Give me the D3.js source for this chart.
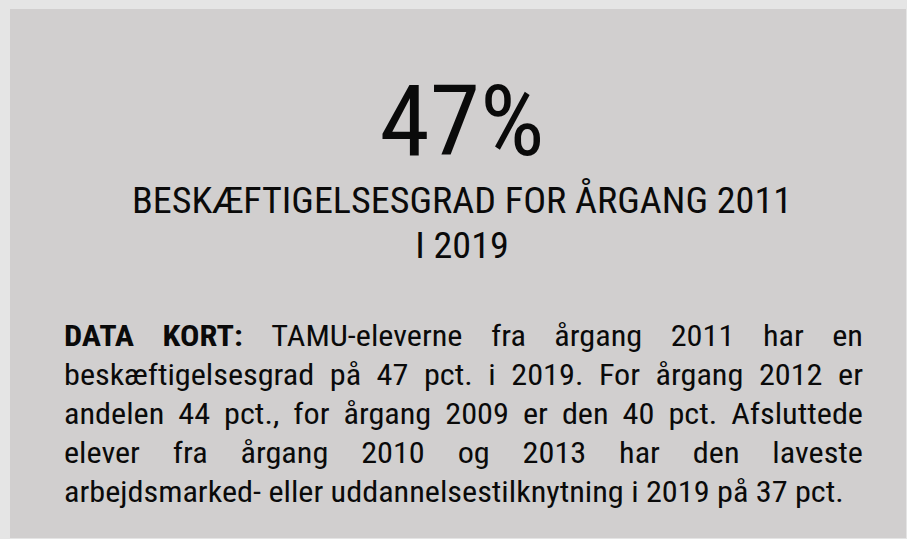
<!DOCTYPE html>
<html>
<head>
<meta charset="utf-8">
<script src="https://cdn.jsdelivr.net/npm/d3@7"></script>
<style>
  html, body { margin: 0; padding: 0; background: #e5e5e5; }
  svg { display: block; }
  text { font-family: "Roboto Condensed", "Liberation Sans Narrow", "DejaVu Sans Condensed", sans-serif; fill: #0a0a0a; }
</style>
</head>
<body>
<svg id="card" width="907" height="539"></svg>
<script>
// headline figure
const headlineValue = 47;
const headlineUnit = "%";

// subtitle, one entry per line
const subtitleLines = ["BESKÆFTIGELSESGRAD FOR ÅRGANG 2011", "I 2019"];

// data note: bold lead + lines of justified text
const noteLead = "DATA KORT:";
const noteLines = [
  "TAMU-eleverne fra årgang 2011 har en",
  "beskæftigelsesgrad på 47 pct. i 2019. For årgang 2012 er",
  "andelen 44 pct., for årgang 2009 er den 40 pct. Afsluttede",
  "elever fra årgang 2010 og 2013 har den laveste",
  "arbejdsmarked- eller uddannelsestilknytning i 2019 på 37 pct."
];

var svg = d3.select("#card"),
    width = +svg.attr("width"),
    height = +svg.attr("height");

var box = { x: 10, y: 9, w: width - 11, h: height - 10 };
var cx = 462;

// the reference face is a touch wider than Roboto Condensed, so stretch horizontally
function stretch(sel, ox, s) {
  return sel.attr("transform", "translate(" + ox + ",0) scale(" + s + ",1) translate(" + (-ox) + ",0)");
}

svg.append("rect")
  .attr("x", box.x).attr("y", box.y)
  .attr("width", box.w).attr("height", box.h)
  .attr("fill", "#d1cfcf");

stretch(svg.append("text"), cx, 1.04)
  .attr("x", cx).attr("y", 155)
  .attr("text-anchor", "middle")
  .style("font-size", "98px")
  .text(d3.format("d")(headlineValue) + headlineUnit);

svg.selectAll("text.sub")
  .data(subtitleLines)
  .enter().append("text")
  .attr("class", "sub")
  .attr("x", cx)
  .attr("y", function (d, i) { return 213 + i * 45; })
  .attr("text-anchor", "middle")
  .attr("transform", "translate(" + cx + ",0) scale(1.06,1) translate(" + (-cx) + ",0)")
  .style("font-size", "36px")
  .text(function (d) { return d; });

// justified paragraph, laid out word by word
var left = 64, right = 863, lineH = 39, firstBase = 346, sx = 1.075;
var y = d3.scaleLinear().domain([0, 1]).range([firstBase, firstBase + lineH]);
var para = stretch(svg.append("g"), left, sx);
var innerRight = left + (right - left) / sx;

noteLines.forEach(function (line, i) {
  var last = i === noteLines.length - 1;
  if (last) {
    para.append("text")
      .attr("x", left).attr("y", y(i))
      .style("font-size", "30px")
      .text(line);
    return;
  }
  var words = line.split(" ").map(function (w) { return { t: w, bold: false }; });
  if (i === 0) words = noteLead.split(" ").map(function (w) { return { t: w, bold: true }; }).concat(words);

  var nodes = words.map(function (w) {
    return para.append("text")
      .attr("y", y(i))
      .style("font-size", "30px")
      .style("font-weight", w.bold ? "bold" : "normal")
      .text(w.t);
  });
  var widths = nodes.map(function (n) { return n.node().getComputedTextLength(); });
  var total = d3.sum(widths);
  var gap = (innerRight - left - total) / (words.length - 1);
  var x = left;
  nodes.forEach(function (n, k) {
    n.attr("x", x);
    x += widths[k] + gap;
  });
});
</script>
</body>
</html>
